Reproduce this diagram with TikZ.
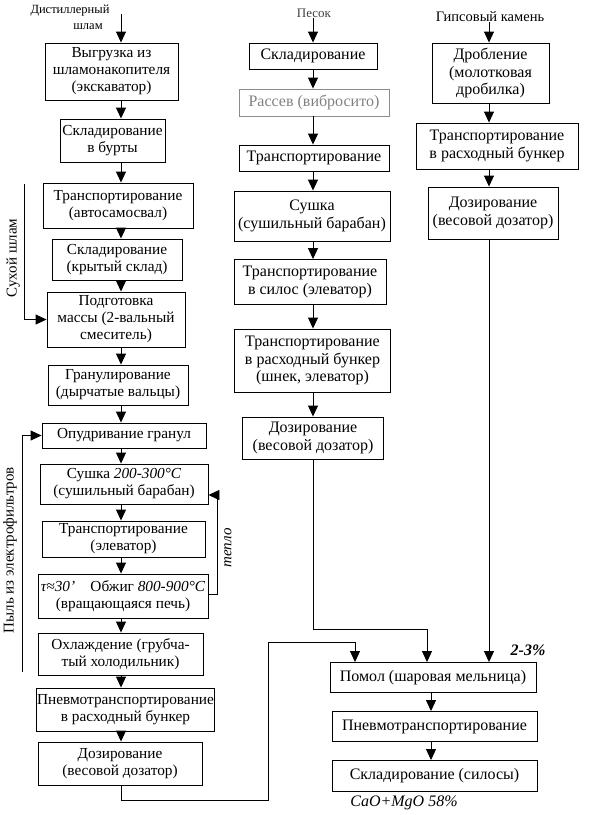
\documentclass[tikz,border=0pt]{standalone}
\usepackage{fontspec}
\setmainfont{Liberation Serif}
\usetikzlibrary{arrows.meta}
\newcommand{\hw}{\itshape}
\tikzset{
  box/.style={draw, line width=0.9pt, align=center, inner sep=1pt, font=\fontsize{16}{17.5}\selectfont},
  lbox/.style={box, font=\fontsize{15.3}{17}\selectfont},
  lbl/.style={align=center, inner sep=0pt, font=\fontsize{15}{17}\selectfont},
  hand/.style={inner sep=0pt, font=\fontsize{15}{17}\selectfont\itshape},
  arr/.style={-{Triangle[length=11pt,width=10pt]}, line width=0.9pt},
  ln/.style={line width=0.9pt}
}
\newcommand{\bx}[6]{\node[box, minimum width=#4pt, minimum height=#5pt] (#1) at (#2,#3) {#6};}
\newcommand{\lx}[6]{\node[lbox, minimum width=#4pt, minimum height=#5pt] (#1) at (#2,#3) {#6};}
\begin{document}
\begin{tikzpicture}[x=1pt,y=-1pt]
\useasboundingbox (0,0) rectangle (591,815);
% axes
\coordinate (axL) at (121,0);
\coordinate (axM) at (313,0);
\coordinate (axR) at (489,0);
\coordinate (axB) at (431,0);
% left column
\node[lbl, font=\fontsize{12.5}{16}\selectfont] (sL) at (70,17) {Дистиллерный\\\hspace*{36pt}шлам};
\coordinate (sL0) at (121,14);
\lx{b1}{111.5}{71.5}{133}{57}{Выгрузка из\\шламонакопителя\\(экскаватор)}
\lx{b2}{112.5}{140.5}{105}{43}{Складирование\\в бурты}
\lx{b3}{118}{205.5}{150}{45}{Транспортирование\\(автосамосвал)}
\lx{b4}{117}{259.5}{130}{41}{Складирование\\(крытый склад)}
\lx{b5}{116}{319.5}{138}{55}{Подготовка\\массы (2-вальный\\смеситель)}
\lx{b6}{118}{385}{140}{40}{Гранулирование\\(дырчатые вальцы)}
\lx{b7}{124}{435.5}{164}{25}{Опудривание гранул}
\lx{b8}{124}{484}{168}{40}{Сушка {\hw 200-300°C}\\(сушильный барабан)}
\lx{b9}{123.5}{539}{163}{36}{Транспортирование\\(элеватор)}
\lx{b10}{123}{596}{170}{44}{{\hw τ≈30'}\quad Обжиг {\hw 800-900°C}\\(вращающаяся печь)}
\lx{b11}{120.5}{654}{165}{42}{Охлаждение (грубча-\\тый холодильник)}
\lx{b12}{125.5}{709.5}{175}{43}{Пневмотранспортирование\\в расходный бункер}
\lx{b13}{120}{763.5}{164}{43}{Дозирование\\(весовой дозатор)}
% middle column
\node[lbl, font=\fontsize{13}{16}\selectfont, text=black!75] (sM) at (314,13) {Песок};
\bx{m1}{313}{56}{128}{26}{Складирование}
\node[box, draw=black!45, text=black!50, minimum width=150pt, minimum height=27pt] (m2) at (314,102.5) {Рассев (вибросито)};
\bx{m3}{314}{158}{150}{26}{Транспортирование}
\bx{m4}{312}{216}{156}{50}{Сушка\\(сушильный барабан)}
\bx{m5}{310}{282}{152}{45}{Транспортирование\\в силос (элеватор)}
\bx{m6}{312.5}{360.5}{156}{63}{Транспортирование\\в расходный бункер\\(шнек, элеватор)}
\bx{m7}{313}{438}{141}{42}{Дозирование\\(весовой дозатор)}
% right column
\node[lbl, font=\fontsize{14.5}{17}\selectfont] (sR) at (490,17) {Гипсовый камень};
\bx{r1}{490.5}{73}{117}{60}{Дробление\\(молотковая\\дробилка)}
\bx{r2}{497}{146}{162}{46}{Транспортирование\\в расходный бункер}
\bx{r3}{493}{213}{130}{52}{Дозирование\\(весовой дозатор)}
% bottom
\bx{n1}{433}{677.5}{206}{30}{Помол (шаровая мельница)}
\bx{n2}{434.5}{726.5}{205}{30}{Пневмотранспортирование}
\bx{n3}{434.5}{776}{205}{31}{Складирование (силосы)}
\node[hand, font=\fontsize{16}{17}\selectfont\itshape\bfseries] (pct) at (528,650) {2-3\%};
\node[hand, font=\fontsize{16}{17}\selectfont\itshape] (cao) at (404,803) {CaO+MgO 58\%};
% left arrows
\draw[arr] (sL0) -- (axL |- b1.north);
\foreach \a/\b in {b1/b2,b2/b3,b3/b4,b4/b5,b5/b6,b6/b7,b7/b8,b8/b9,b9/b10,b10/b11,b11/b12,b12/b13}
  \draw[arr] (axL |- \a.south) -- (axL |- \b.north);
% middle arrows
\draw[arr] (sM.south -| axM) -- (axM |- m1.north);
\foreach \a/\b in {m1/m2,m2/m3,m3/m4,m4/m5,m5/m6,m6/m7}
  \draw[arr] (axM |- \a.south) -- (axM |- \b.north);
% right arrows
\draw[arr] (sR.south -| axR) -- (axR |- r1.north);
\foreach \a/\b in {r1/r2,r2/r3}
  \draw[arr] (axR |- \a.south) -- (axR |- \b.north);
% bottom arrows
\foreach \a/\b in {n1/n2,n2/n3}
  \draw[arr] (axB |- \a.south) -- (axB |- \b.north);
% feeds into mill
\coordinate (c1) at (268,800);
\coordinate (c2) at (355,642);
\draw[arr] (axL |- b13.south) |- (c1) |- (c2) -- (c2 |- n1.north);
\coordinate (c3) at (427,629);
\draw[arr] (axM |- m7.south) |- (c3) -- (c3 |- n1.north);
\draw[arr] (axR |- r3.south) -- (axR |- n1.north);
% dry slurry
\coordinate (sh0) at (24,184);
\draw[arr] (sh0) |- (b5.west);
\node[lbl, rotate=90] (shl) at (13,258) {Сухой шлам};
% dust
\coordinate (p0) at (22,672);
\draw[arr] (p0) |- (b7.west);
\node[lbl, rotate=90] (pl) at (10,550) {Пыль из электрофильтров};
% heat
\coordinate (t0) at (217,594);
\coordinate (t1) at (217,495);
\draw[arr] (b10.east |- t0) -- (t0) -- (t1) -- (b8.east |- t1);
\node[hand, rotate=90] (tl) at (228,548) {тепло};
\end{tikzpicture}
\end{document}
